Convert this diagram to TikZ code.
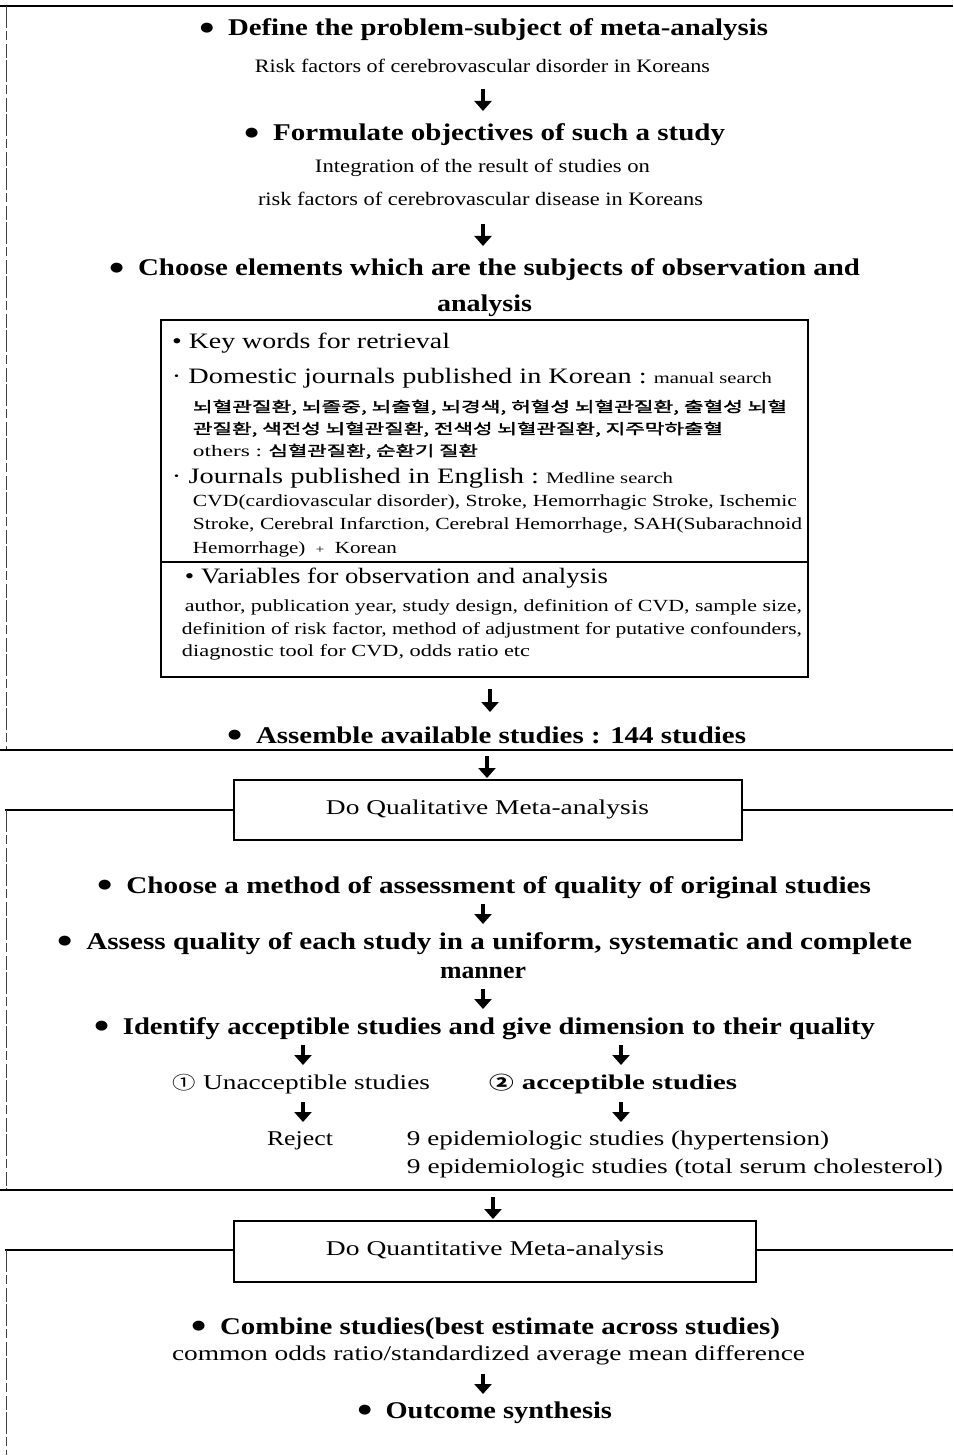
\documentclass[tikz,border=0pt]{standalone}
\usepackage{fontspec}
\setmainfont{Liberation Serif}
\newfontfamily\cjk{Noto Sans CJK KR}
\newfontfamily\cjkb{Noto Sans CJK KR}[FakeBold=1.6]
\newfontfamily\djv{DejaVu Sans}
\usetikzlibrary{arrows.meta}
\newcommand{\fw}[2]{\resizebox{#1}{\height}{#2}}
% \tx{style}{name}{left}{right}{y}{text}
\newcommand{\tx}[6]{\node[#1] (#2) at ({(#3+#4)/2},#5) {\fw{\dimexpr #4pt-#3pt\relax}{#6}};}
% \darrow{name}{x}{y1}{y2}
\newcommand{\darrow}[4]{\coordinate (#1s) at (#2,#3); \coordinate (#1e) at (#2,#4); \draw[darr] (#1s) -- (#1e);}
\newcommand{\bul}{\raisebox{4.5pt}{\djv\fontsize{13}{13}\selectfont ●}\ \ }
\begin{document}
\begin{tikzpicture}[x=1pt,y=-1pt,
  hd/.style={font=\fontsize{24}{28}\selectfont\bfseries, inner sep=0pt, text height=17pt, text depth=5pt},
  sub/.style={font=\fontsize{19}{22}\selectfont, inner sep=0pt, text height=13pt, text depth=4pt},
  bx/.style={font=\fontsize{22}{25}\selectfont, inner sep=0pt, text height=15pt, text depth=5pt},
  sm/.style={font=\fontsize{17}{20}\selectfont, inner sep=0pt, text height=12pt, text depth=4pt},
  kr/.style={font=\cjkb\fontsize{14.5}{16}\selectfont, inner sep=0pt, text height=11pt, text depth=3pt},
  md/.style={font=\fontsize{21}{24}\selectfont, inner sep=0pt, text height=14pt, text depth=5pt},
  mdb/.style={font=\fontsize{21}{24}\selectfont\bfseries, inner sep=0pt, text height=14pt, text depth=5pt},
  darr/.style={line width=4pt, -{Triangle[width=17pt,length=10pt]}},
  rule/.style={line width=1.8pt},
  side/.style={line width=0.8pt, black!75, dash pattern=on 22pt off 3pt on 9pt off 4pt on 14pt off 2pt},
  frame/.style={draw, line width=1.2pt, inner sep=0pt}]
\useasboundingbox (0,0) rectangle (953,1455);
\fill[white] (0,0) rectangle (953,1455);

% ---------- section 1 ----------
\draw[rule] (0,6) -- (953,6);
\draw[side] (6,6) -- (6,750);

\tx{hd}{d1}{200}{768}{30}{\bul Define the problem-subject of meta-analysis}
\tx{sub}{d2}{255}{710}{68}{Risk factors of cerebrovascular disorder in Koreans}
\darrow{a1}{483}{89}{111}
\tx{hd}{f1}{245}{725}{135}{\bul Formulate objectives of such a study}
\tx{sub}{f2}{315}{650}{168}{Integration of the result of studies on}
\tx{sub}{f3}{258}{703}{201}{risk factors of cerebrovascular disease in Koreans}
\darrow{a2}{483}{224}{246}
\tx{hd}{c1}{110}{860}{270}{\bul Choose elements which are the subjects of observation and}
\tx{hd}{c2}{437}{532}{305}{analysis}

\node[frame, minimum width=647pt, minimum height=357pt] (bigbox) at (484.5,498.5) {};
\coordinate (dv1) at (161,562);
\coordinate (dv2) at (808,562);
\draw[line width=1.2pt] (dv1) -- (dv2);

\tx{bx}{k1}{172}{450}{343}{• Key words for retrieval}
\tx{bx}{k2}{172}{772}{378}{· Domestic journals published in Korean :\ {\fontsize{16}{19}\selectfont manual search}}
\tx{kr}{kr1}{193}{787}{408}{뇌혈관질환, 뇌졸중, 뇌출혈, 뇌경색, 허혈성 뇌혈관질환, 출혈성 뇌혈}
\tx{kr}{kr2}{193}{723}{430}{관질환, 색전성 뇌혈관질환, 전색성 뇌혈관질환, 지주막하출혈}
\tx{kr}{kr3}{193}{478}{452}{{\fontspec{Liberation Serif}\fontsize{16}{19}\selectfont others :} 심혈관질환, 순환기 질환}
\tx{bx}{k3}{172}{673}{478}{· Journals published in English :\ {\fontsize{16}{19}\selectfont Medline search}}
\tx{sm}{e1}{193}{797}{502}{CVD(cardiovascular disorder), Stroke, Hemorrhagic Stroke, Ischemic}
\tx{sm}{e2}{193}{802}{525}{Stroke, Cerebral Infarction, Cerebral Hemorrhage, SAH(Subarachnoid}
\tx{sm}{e3}{193}{397}{549}{Hemorrhage)\ \ {\fontsize{12}{14}\selectfont +}\ \ Korean}
\tx{bx}{v1}{185}{608}{578}{• Variables for observation and analysis}
\tx{sm}{v2}{185}{802}{607}{author, publication year, study design, definition of CVD, sample size,}
\tx{sm}{v3}{182}{802}{630}{definition of risk factor, method of adjustment for putative confounders,}
\tx{sm}{v4}{182}{530}{652}{diagnostic tool for CVD, odds ratio etc}

\darrow{a3}{490}{689}{712}
\tx{hd}{as}{228}{746}{737}{\bul Assemble available studies : 144 studies}
\draw[rule] (0,750) -- (953,750);

% ---------- section 2 ----------
\darrow{a4}{487}{756}{778}
\node[frame, minimum width=508pt, minimum height=60pt] (qual) at (488,810) {};
\tx{md}{qualt}{326}{649}{810}{Do Qualitative Meta-analysis}
\coordinate (ql) at (5,810);
\coordinate (qr) at (953,810);
\draw[line width=1.2pt] (ql) -- (qual.west);
\draw[line width=1.2pt] (qual.east) -- (qr);
\draw[side] (6,810) -- (6,1190);

\tx{hd}{q1}{98}{871}{887}{\bul Choose a method of assessment of quality of original studies}
\darrow{a5}{483}{904}{924}
\tx{hd}{q2}{58}{912}{943}{\bul Assess quality of each study in a uniform, systematic and complete}
\tx{hd}{q3}{440}{526}{972}{manner}
\darrow{a6}{483}{989}{1009}
\tx{hd}{q4}{95}{875}{1028}{\bul Identify acceptible studies and give dimension to their quality}
\darrow{a7}{303}{1045}{1065}
\darrow{a8}{621}{1045}{1065}
\tx{md}{u1}{173}{430}{1085}{{\cjk\fontsize{18}{20}\selectfont ①} Unacceptible studies}
\tx{mdb}{u2}{490}{737}{1085}{{\cjk\fontsize{18}{20}\selectfont\bfseries ②} acceptible studies}
\darrow{a9}{303}{1102}{1122}
\darrow{a10}{621}{1102}{1122}
\tx{md}{rj}{267}{333}{1141}{Reject}
\tx{md}{ep1}{407}{829}{1141}{9 epidemiologic studies (hypertension)}
\tx{md}{ep2}{407}{943}{1169}{9 epidemiologic studies (total serum cholesterol)}
\draw[rule] (0,1190) -- (953,1190);

% ---------- section 3 ----------
\darrow{a11}{493}{1197}{1219}
\node[frame, minimum width=522pt, minimum height=61pt] (quan) at (495,1251.5) {};
\tx{md}{quant}{326}{664}{1251}{Do Quantitative Meta-analysis}
\coordinate (nl) at (5,1250);
\coordinate (nr) at (953,1250);
\draw[line width=1.2pt] (nl) -- (quan.west |- nl);
\draw[line width=1.2pt] (quan.east |- nr) -- (nr);
\draw[side] (6,1250) -- (6,1455);

\tx{hd}{cb1}{192}{780}{1328}{\bul Combine studies(best estimate across studies)}
\tx{md}{cb2}{172}{805}{1356}{common odds ratio/standardized average mean difference}
\darrow{a12}{483}{1374}{1394}
\tx{hd}{os}{358}{612}{1412}{\bul Outcome synthesis}
\end{tikzpicture}
\end{document}
